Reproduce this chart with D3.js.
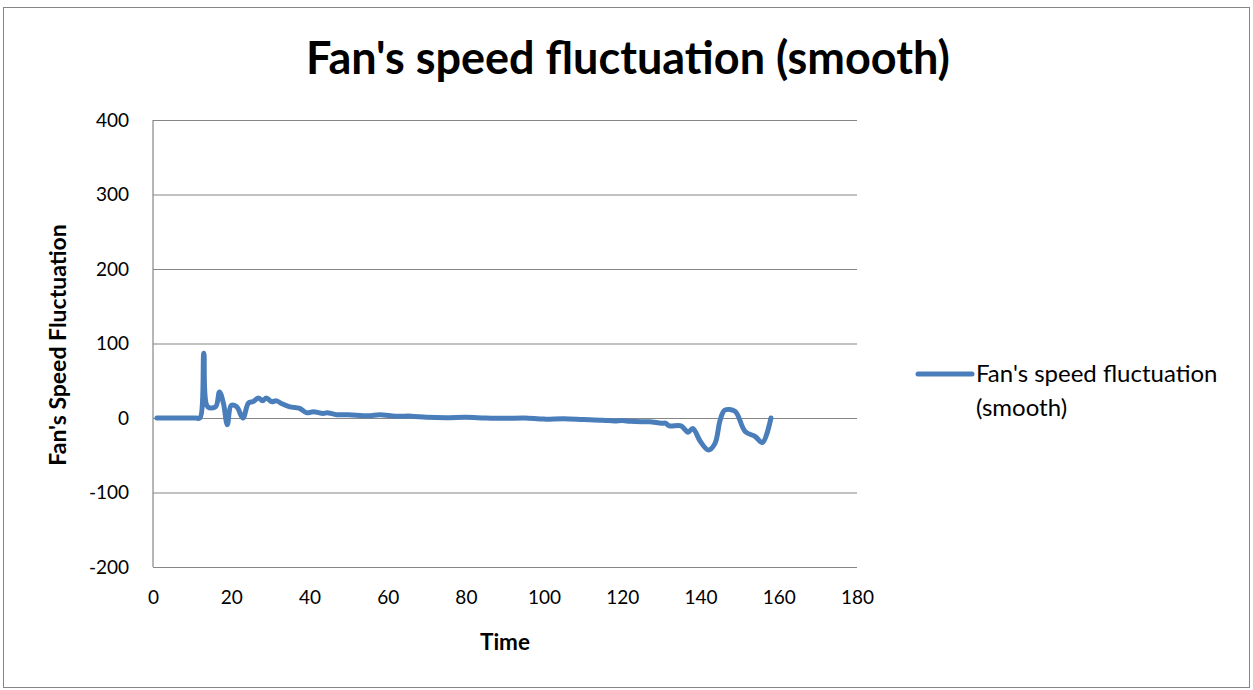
<!DOCTYPE html>
<html>
<head>
<meta charset="utf-8">
<script src="https://cdn.jsdelivr.net/npm/d3@7"></script>
<style>
  html, body { margin: 0; padding: 0; background: #fff; }
  svg { display: block; }
</style>
</head>
<body>
<svg id="chart" width="1253" height="690"></svg>
<script>
// Time samples (s) and the smoothed fan speed fluctuation at each sample
const times = [1, 4, 7, 10, 11, 12, 13, 14, 16, 17, 18, 19, 20, 21.4, 23, 24.4, 25.6, 27, 28, 29, 30.3, 31.6,
  33, 35, 37.5, 39.3, 41, 43.5, 44.5, 47, 50, 55, 58, 62, 66, 70, 75, 80, 85, 90, 95, 100,
  105, 110, 115, 118, 120, 122, 125, 127, 130, 131, 132, 135, 136.8, 138, 140, 142, 143.7,
  145, 146.2, 148.8, 151.4, 154, 155.8, 158];
const values = [0, 0, 0, 0, 0, 0, 87, 15, 15, 35, 20, -9, 17, 15, 0, 20, 22, 27, 23, 27, 22, 23,
  19, 15, 13, 7, 8.5, 6, 7, 4.5, 4.5, 3, 4.5, 2.5, 2.5, 1, 0.5, 1, 0, -0.5, 0, -1.5,
  -1, -2, -3, -4, -3.5, -4.5, -5, -5, -7, -7, -10.5, -10.5, -19, -14, -32, -43, -34,
  -3, 10.5, 9, -18, -25, -33, 0];

const seriesName = "Fan's speed fluctuation (smooth)";
const xTicks = [0, 20, 40, 60, 80, 100, 120, 140, 160, 180];
const yTicks = [-200, -100, 0, 100, 200, 300, 400];

const svg = d3.select("#chart");
const font = "Lato, 'Open Sans', sans-serif";
const gridColor = "#868686";
const lineColor = "#4A7EBB";

// outer chart frame
svg.append("rect")
  .attr("x", 3.5).attr("y", 7.5)
  .attr("width", 1246).attr("height", 680)
  .attr("fill", "#fff").attr("stroke", gridColor).attr("stroke-width", 1);

const plot = { left: 153, right: 857, top: 120, bottom: 567 };

const x = d3.scaleLinear().domain([0, 180]).range([plot.left, plot.right]);
const y = d3.scaleLinear().domain([-200, 400]).range([plot.bottom, plot.top]);

// plain hyphen-minus for negative tick labels
const fmt = d => String(d);

// horizontal gridlines with value labels
const yAxis = d3.axisLeft(y).tickValues(yTicks).tickFormat(fmt)
  .tickSize(-(plot.right - plot.left)).tickPadding(24);
const gy = svg.append("g").attr("transform", `translate(${plot.left},0)`).call(yAxis);
gy.select(".domain").remove();
gy.selectAll(".tick line").attr("stroke", gridColor).attr("stroke-width", 1.2);
gy.selectAll(".tick text")
  .attr("font-family", font).attr("font-size", 19).attr("fill", "#000");

// x axis (labels only, along the bottom edge)
const xAxis = d3.axisBottom(x).tickValues(xTicks).tickFormat(fmt).tickSize(0).tickPadding(24);
const gx = svg.append("g").attr("transform", `translate(0,${plot.bottom})`).call(xAxis);
gx.select(".domain").remove();
gx.selectAll(".tick text")
  .attr("font-family", font).attr("font-size", 19).attr("fill", "#000");

// left axis line
svg.append("line")
  .attr("x1", plot.left).attr("x2", plot.left)
  .attr("y1", plot.top).attr("y2", plot.bottom)
  .attr("stroke", gridColor).attr("stroke-width", 1.2);

// data line
const data = times.map((t, i) => ({ t, v: values[i] }));
const line = d3.line()
  .x(d => x(d.t)).y(d => y(d.v))
  .curve(d3.curveCatmullRom.alpha(0.5));
svg.append("path")
  .datum(data)
  .attr("d", line)
  .attr("fill", "none")
  .attr("stroke", lineColor)
  .attr("stroke-width", 5)
  .attr("stroke-linejoin", "round")
  .attr("stroke-linecap", "round");

// title
svg.append("text")
  .attr("x", 628).attr("y", 74)
  .attr("text-anchor", "middle")
  .attr("font-family", font).attr("font-weight", "bold").attr("font-size", 45)
  .attr("fill", "#000")
  .text(seriesName);

// axis titles
svg.append("text")
  .attr("x", 505).attr("y", 650)
  .attr("text-anchor", "middle")
  .attr("font-family", font).attr("font-weight", "bold").attr("font-size", 22.5)
  .text("Time");

svg.append("text")
  .attr("transform", "translate(66,345) rotate(-90)")
  .attr("text-anchor", "middle")
  .attr("font-family", font).attr("font-weight", "bold").attr("font-size", 23)
  .text("Fan's Speed Fluctuation");

// legend
const legend = svg.append("g");
legend.append("line")
  .attr("x1", 918).attr("x2", 972).attr("y1", 374).attr("y2", 374)
  .attr("stroke", lineColor).attr("stroke-width", 5).attr("stroke-linecap", "round");
const lt = legend.append("text")
  .attr("font-family", font).attr("font-size", 24).attr("fill", "#000");
lt.append("tspan").attr("x", 976).attr("y", 382).text("Fan's speed fluctuation");
lt.append("tspan").attr("x", 976).attr("y", 416).text("(smooth)");
</script>
</body>
</html>
